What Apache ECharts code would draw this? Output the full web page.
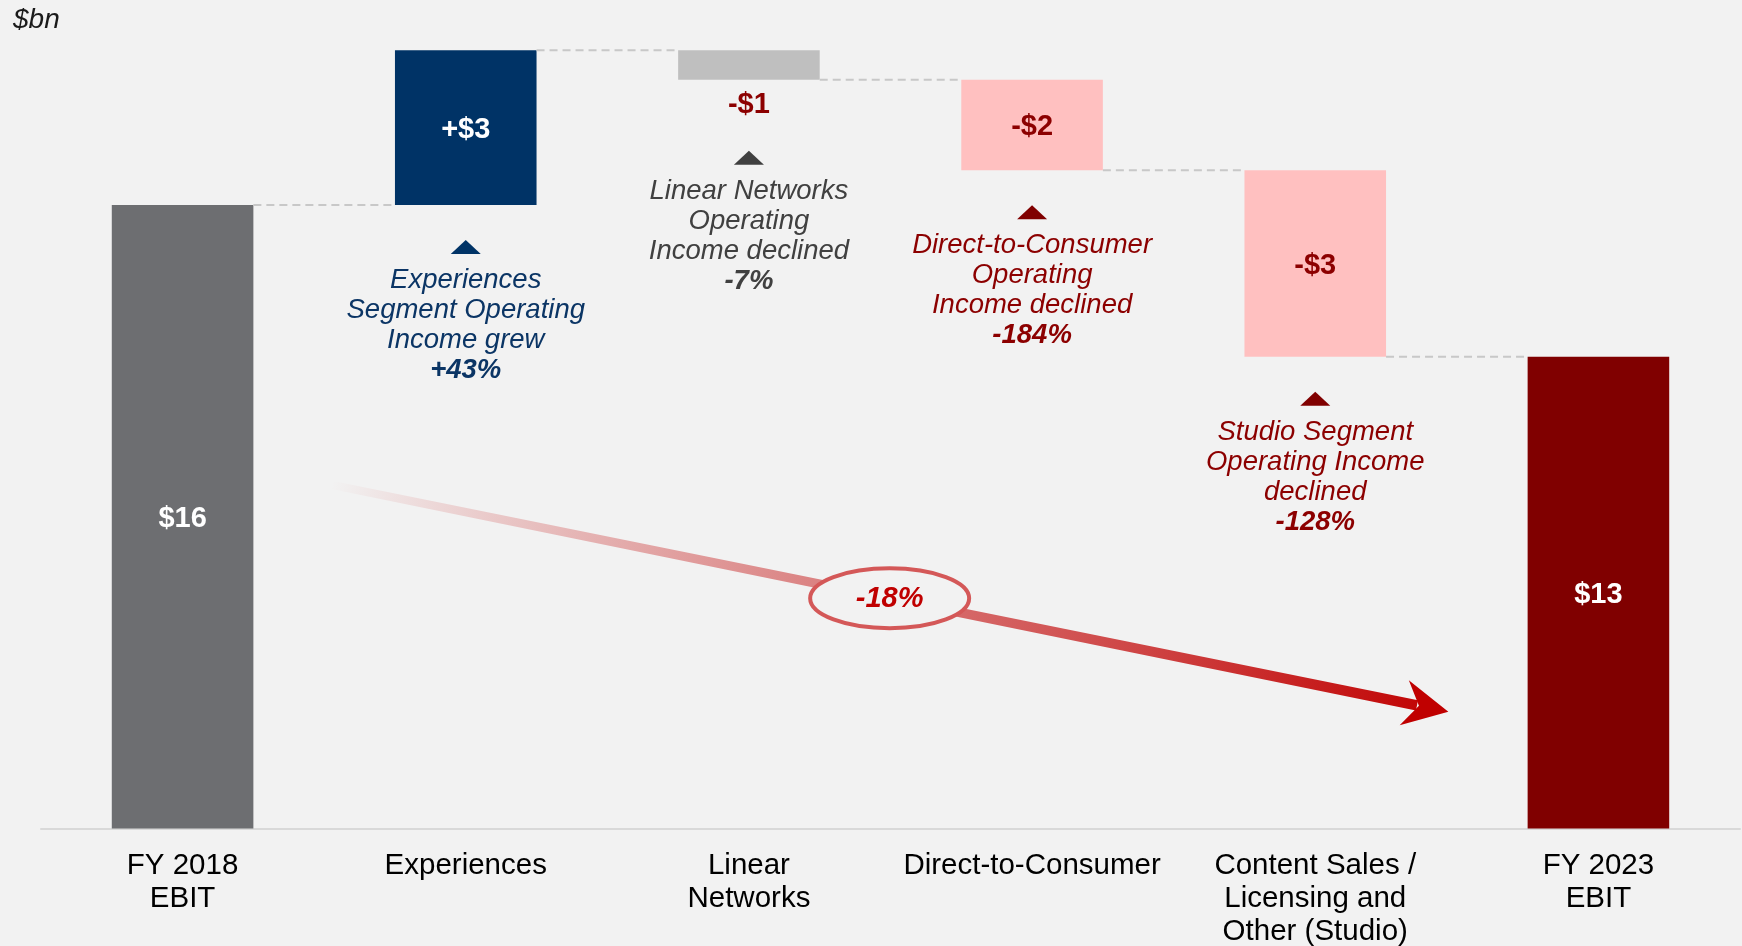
<!DOCTYPE html>
<html lang="en">
<head>
<meta charset="UTF-8">
<title>EBIT bridge FY 2018 - FY 2023</title>
<script src="https://cdn.jsdelivr.net/npm/echarts@6/dist/echarts.min.js"></script>
<style>
    html, body { margin: 0; padding: 0; background: #F2F2F2; }
    #main { width: 1742px; height: 946px; }
</style>
</head>
<body>
<div id="main"></div>
<script>
    // $bn, totals and changes
    var categories = ['FY 2018\nEBIT', 'Experiences', 'Linear\nNetworks', 'Direct-to-Consumer',
        'Content Sales /\nLicensing and\nOther (Studio)', 'FY 2023\nEBIT'];
    var amounts = [15.7, 2.9, -0.55, -1.7, -3.5, 12.85];
    var isTotal = [true, false, false, false, false, true];
    var valueLabels = ['$16', '+$3', '-$1', '-$2', '-$3', '$13'];
    var noteText = ['', 'Experiences\nSegment Operating\nIncome grew', 'Linear Networks\nOperating\nIncome declined',
        'Direct-to-Consumer\nOperating\nIncome declined', 'Studio Segment\nOperating Income\ndeclined', ''];
    var notePct = ['', '+43%', '-7%', '-184%', '-128%', ''];
    var totalChange = '-18%';
    var unitLabel = '$bn';

    var FONT = '"Liberation Sans", Arial, Helvetica, sans-serif';
    var barColors = ['#6D6E71', '#003366', '#BFBFBF', '#FFC0C0', '#FFC0C0', '#800000'];
    var labelColors = ['#FFFFFF', '#FFFFFF', '#8C0000', '#8C0000', '#8C0000', '#FFFFFF'];
    var noteColors = ['', '#0B3565', '#404040', '#8C0000', '#8C0000', ''];
    var triColors = ['', '#003366', '#404040', '#800000', '#800000', ''];

    // axis does not start at zero in the original slide
    var yMin = 4, yMax = 19;
    // ends of the trend arrow, in axis units (category index, $bn)
    var arrowFrom = [0.524, 10.45], arrowTo = [4.47, 6.19];

    // build the floating bars
    var running = 0;
    var bridge = amounts.map(function (v, i) {
        if (isTotal[i]) {
            running = v;
            return [i, yMin, v, v];
        }
        var start = running;
        running += v;
        return [i, Math.min(start, running), Math.max(start, running), running];
    });

    function renderBar(params, api) {
        var i = api.value(0);
        var top = api.coord([i, api.value(2)]);
        var bot = api.coord([i, api.value(1)]);
        var band = api.size([1, 0])[0];
        var w = band * 0.5;
        var x = top[0] - w / 2;
        var h = bot[1] - top[1];
        var cx = top[0];
        var kids = [{
            type: 'rect',
            shape: {x: x, y: top[1], width: w, height: h},
            style: {fill: barColors[i]}
        }];
        // dashed connector to the next bar
        if (i < categories.length - 1) {
            var lv = api.coord([i, api.value(3)]);
            kids.push({
                type: 'line',
                shape: {x1: x + w, y1: lv[1], x2: x + band, y2: lv[1]},
                style: {stroke: '#C8C8C8', lineWidth: 2, lineDash: [8, 5]}
            });
        }
        var inside = h > 50;
        var labelY = inside ? top[1] + h / 2 + 2 : bot[1] + 25;
        kids.push({
            type: 'text',
            style: {
                text: valueLabels[i], x: cx, y: labelY, align: 'center', verticalAlign: 'middle',
                fontFamily: FONT, fontSize: 29, fontWeight: 'bold', fill: labelColors[i]
            }
        });
        if (noteText[i]) {
            var triTop = bot[1] + (inside ? 35 : 71);
            kids.push({
                type: 'polygon',
                shape: {points: [[cx - 15, triTop + 14], [cx + 15, triTop + 14], [cx, triTop]]},
                style: {fill: triColors[i]}
            });
            kids.push({
                type: 'text',
                style: {
                    text: noteText[i] + '\n{p|' + notePct[i] + '}',
                    x: cx, y: triTop + 25.5, align: 'center', verticalAlign: 'top',
                    fontFamily: FONT, fontSize: 27.5, fontStyle: 'italic', lineHeight: 30, fill: noteColors[i],
                    rich: {
                        p: {fontFamily: FONT, fontSize: 27.5, fontStyle: 'italic', fontWeight: 'bold', lineHeight: 30, fill: noteColors[i]}
                    }
                }
            });
        }
        return {type: 'group', children: kids};
    }

    function renderArrow(params, api) {
        var band = api.size([1, 0])[0];
        // category positions are snapped by api.coord, so add the fraction by hand
        function at(p) {
            var k = Math.floor(p[0]);
            var c = api.coord([k, p[1]]);
            return [c[0] + (p[0] - k) * band, c[1]];
        }
        var a = at(arrowFrom);
        var b = at(arrowTo);
        var dx = b[0] - a[0], dy = b[1] - a[1];
        var len = Math.sqrt(dx * dx + dy * dy);
        var ux = dx / len, uy = dy / len;
        var nx = -uy, ny = ux;
        var half0 = 4, half1 = 5.2, headBack = 45, notch = 32, headHalf = 23;
        var nb = [b[0] - ux * notch, b[1] - uy * notch];
        var shaft = [
            [a[0] + nx * half0, a[1] + ny * half0],
            [nb[0] + nx * half1, nb[1] + ny * half1],
            [nb[0] - nx * half1, nb[1] - ny * half1],
            [a[0] - nx * half0, a[1] - ny * half0]
        ];
        var head = [
            b,
            [b[0] - ux * headBack + nx * headHalf, b[1] - uy * headBack + ny * headHalf],
            [nb[0] + ux * 2, nb[1] + uy * 2],
            [b[0] - ux * headBack - nx * headHalf, b[1] - uy * headBack - ny * headHalf]
        ];
        var mid = [(a[0] + b[0]) / 2, (a[1] + b[1]) / 2];
        return {
            type: 'group',
            children: [{
                type: 'polygon',
                shape: {points: shaft},
                style: {
                    fill: new echarts.graphic.LinearGradient(a[0], a[1], b[0], b[1], [
                        {offset: 0, color: 'rgba(192,0,0,0)'},
                        {offset: 0.5, color: 'rgba(200,40,40,0.62)'},
                        {offset: 1, color: 'rgba(192,0,0,1)'}
                    ], true)
                }
            }, {
                type: 'polygon',
                shape: {points: head},
                style: {fill: '#C00000'}
            }, {
                type: 'ellipse',
                shape: {cx: mid[0], cy: mid[1], rx: 79.5, ry: 30},
                style: {fill: '#F2F2F2', stroke: '#D45858', lineWidth: 4}
            }, {
                type: 'text',
                style: {
                    text: totalChange, x: mid[0], y: mid[1] + 1, align: 'center', verticalAlign: 'middle',
                    fontFamily: FONT, fontSize: 29, fontWeight: 'bold', fontStyle: 'italic', fill: '#C00000'
                }
            }]
        };
    }

    var myChart = echarts.init(document.getElementById('main'));
    var option = {
        backgroundColor: '#F2F2F2',
        animation: false,
        grid: {left: 41, right: 2, top: 29, bottom: 117.5, outerBoundsMode: 'none'},
        xAxis: {
            type: 'category',
            data: categories,
            axisLine: {lineStyle: {color: '#D9D9D9', width: 2}},
            axisTick: {show: false},
            axisLabel: {
                interval: 0, color: '#000000', fontFamily: FONT, fontSize: 29.5,
                lineHeight: 33, margin: 21
            }
        },
        yAxis: {type: 'value', min: yMin, max: yMax, show: false},
        graphic: [{
            type: 'text', left: 13, top: 6,
            style: {text: unitLabel, fontFamily: FONT, fontSize: 28, fontStyle: 'italic', fill: '#1A1A1A'}
        }],
        series: [{
            type: 'custom',
            renderItem: renderBar,
            encode: {x: 0, y: [1, 2]},
            data: bridge,
            z: 2
        }, {
            type: 'custom',
            renderItem: renderArrow,
            data: [[0, yMin]],
            z: 3
        }]
    };
    myChart.setOption(option);
</script>
</body>
</html>
